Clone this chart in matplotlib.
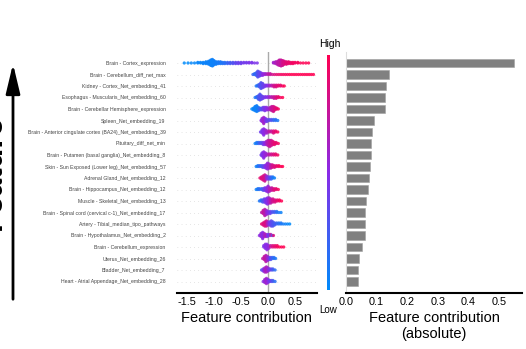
import numpy as np
import matplotlib
matplotlib.use("Agg")
import matplotlib.pyplot as plt
from matplotlib.colors import LinearSegmentedColormap

plt.rcParams['font.family'] = ['Liberation Sans', 'DejaVu Sans']

features = [
    "Brain - Cortex_expression",
    "Brain - Cerebellum_diff_net_max",
    "Kidney - Cortex_Net_embedding_41",
    "Esophagus - Muscularis_Net_embedding_60",
    "Brain - Cerebellar Hemisphere_expression",
    "Spleen_Net_embedding_19",
    "Brain - Anterior cingulate cortex (BA24)_Net_embedding_39",
    "Pituitary_diff_net_min",
    "Brain - Putamen (basal ganglia)_Net_embedding_8",
    "Skin - Sun Exposed (Lower leg)_Net_embedding_57",
    "Adrenal Gland_Net_embedding_12",
    "Brain - Hippocampus_Net_embedding_12",
    "Muscle - Skeletal_Net_embedding_13",
    "Brain - Spinal cord (cervical c-1)_Net_embedding_17",
    "Artery - Tibial_median_tipo_pathways",
    "Brain - Hypothalamus_Net_embedding_2",
    "Brain - Cerebellum_expression",
    "Uterus_Net_embedding_26",
    "Bladder_Net_embedding_7",
    "Heart - Atrial Appendage_Net_embedding_28",
]

mean_abs = [0.550, 0.139, 0.132, 0.127, 0.126, 0.093, 0.086, 0.083, 0.081, 0.080,
            0.074, 0.071, 0.065, 0.061, 0.061, 0.061, 0.052, 0.044, 0.040, 0.039]

# per feature: (shap value, feature value 0-1, number of samples)
swarm = [
    [(-1.55,0.0,1),(-1.48,0.0,1),(-1.42,0.02,1),(-1.36,0.02,1),(-1.30,0.03,2),(-1.25,0.03,2),
     (-1.20,0.04,3),(-1.15,0.04,4),(-1.10,0.05,6),(-1.06,0.05,10),(-1.03,0.05,12),(-1.00,0.06,8),
     (-0.96,0.07,5),(-0.92,0.08,4),(-0.88,0.1,4),(-0.84,0.12,3),(-0.80,0.15,3),(-0.75,0.2,3),
     (-0.70,0.25,3),(-0.65,0.3,3),(-0.60,0.35,3),(-0.55,0.38,3),(-0.50,0.4,3),(-0.45,0.42,2),
     (-0.40,0.42,2),(-0.35,0.45,2),(-0.30,0.45,2),(-0.25,0.45,1),(-0.20,0.45,1),
     (0.10,0.6,2),(0.14,0.65,4),(0.18,0.7,7),(0.21,0.72,10),(0.24,0.75,11),(0.27,0.8,9),
     (0.30,0.85,6),(0.34,0.88,5),(0.38,0.9,4),(0.42,0.92,3),(0.46,0.95,3),(0.50,0.95,2),
     (0.55,0.97,2),(0.60,0.98,1),(0.65,1.0,1),(0.70,1.0,1),(0.75,1.0,1)],
    [(-0.28,0.2,1),(-0.25,0.15,2),(-0.22,0.2,4),(-0.19,0.3,8),(-0.16,0.35,6),(-0.13,0.4,4),
     (-0.10,0.5,3),(-0.07,0.55,2),(-0.04,0.6,2),(0.0,0.7,2),(0.04,0.75,2),(0.08,0.8,1),
     (0.12,0.85,1),(0.16,0.9,1),(0.20,0.92,1),(0.24,0.95,1),(0.28,0.95,1),(0.32,0.97,1),
     (0.36,0.97,1),(0.40,1.0,1),(0.44,1.0,1),(0.48,1.0,1),(0.52,1.0,1),(0.56,1.0,1),
     (0.60,1.0,1),(0.64,1.0,1),(0.68,1.0,1),(0.72,1.0,1),(0.76,1.0,1),(0.80,1.0,1),(0.84,1.0,1)],
    [(-0.22,0.1,1),(-0.19,0.15,2),(-0.16,0.25,4),(-0.13,0.3,8),(-0.10,0.35,6),(-0.07,0.4,3),
     (-0.04,0.45,2),(-0.01,0.5,2),(0.03,0.6,2),(0.07,0.7,2),(0.11,0.8,3),(0.15,0.85,3),
     (0.19,0.9,2),(0.23,0.9,2),(0.27,0.95,1),(0.30,1.0,1)],
    [(-0.24,0.1,1),(-0.21,0.15,2),(-0.18,0.25,5),(-0.15,0.3,8),(-0.12,0.35,5),(-0.09,0.4,3),
     (-0.05,0.45,2),(-0.01,0.5,2),(0.03,0.6,2),(0.07,0.7,2),(0.11,0.75,3),(0.15,0.85,3),
     (0.19,0.9,2),(0.23,0.95,1),(0.27,1.0,1)],
    [(-0.30,0.0,1),(-0.27,0.02,3),(-0.24,0.05,6),(-0.21,0.05,8),(-0.18,0.1,5),(-0.15,0.2,3),
     (-0.12,0.3,3),(-0.09,0.4,4),(-0.06,0.45,5),(-0.03,0.5,4),(0.0,0.55,3),(0.04,0.65,4),
     (0.07,0.75,6),(0.10,0.8,7),(0.13,0.85,4),(0.16,0.9,2),(0.19,0.95,1)],
    [(-0.13,0.5,1),(-0.11,0.55,4),(-0.08,0.6,7),(-0.05,0.5,4),(-0.02,0.4,3),(0.02,0.35,2),
     (0.06,0.3,2),(0.10,0.2,2),(0.14,0.15,2),(0.18,0.1,1)],
    [(-0.14,0.4,1),(-0.11,0.45,4),(-0.08,0.5,7),(-0.05,0.55,4),(-0.02,0.6,3),(0.02,0.7,2),
     (0.06,0.75,2),(0.10,0.85,3),(0.14,0.9,2),(0.18,0.95,1)],
    [(-0.24,0.05,1),(-0.21,0.1,2),(-0.18,0.15,2),(-0.15,0.25,2),(-0.12,0.3,2),(-0.09,0.4,3),
     (-0.06,0.5,3),(-0.03,0.6,4),(0.0,0.7,6),(0.03,0.75,7),(0.06,0.8,6),(0.09,0.85,4),
     (0.12,0.9,3),(0.15,0.9,2),(0.19,0.95,1)],
    [(-0.13,0.4,1),(-0.11,0.45,4),(-0.08,0.5,7),(-0.05,0.55,4),(-0.02,0.6,2),(0.02,0.7,2),
     (0.06,0.8,2),(0.10,0.85,2),(0.14,0.9,2),(0.18,0.95,1)],
    [(-0.22,0.05,1),(-0.19,0.1,2),(-0.16,0.15,2),(-0.13,0.25,2),(-0.10,0.3,3),(-0.07,0.4,3),
     (-0.04,0.5,5),(-0.01,0.55,8),(0.02,0.6,6),(0.05,0.7,5),(0.08,0.8,4),(0.12,0.85,3),
     (0.16,0.9,2),(0.20,0.95,2),(0.24,1.0,1),(0.27,1.0,1)],
    [(-0.15,0.9,1),(-0.12,0.85,3),(-0.09,0.85,5),(-0.06,0.8,7),(-0.03,0.6,4),(0.0,0.45,3),
     (0.03,0.35,3),(0.06,0.2,3),(0.09,0.1,2),(0.12,0.05,1)],
    [(-0.22,0.05,1),(-0.19,0.1,2),(-0.16,0.15,2),(-0.12,0.2,2),(-0.09,0.3,3),(-0.06,0.4,4),
     (-0.03,0.5,5),(0.0,0.55,8),(0.03,0.65,5),(0.07,0.75,4),(0.11,0.85,3),(0.15,0.9,2),
     (0.19,0.95,1)],
    [(-0.16,0.1,1),(-0.13,0.15,2),(-0.10,0.25,3),(-0.07,0.35,4),(-0.04,0.45,5),(-0.01,0.5,7),
     (0.02,0.6,6),(0.05,0.7,5),(0.09,0.8,4),(0.13,0.85,3),(0.17,0.9,2),(0.21,0.95,2),(0.25,1.0,1)],
    [(-0.12,0.7,1),(-0.09,0.75,4),(-0.06,0.7,7),(-0.03,0.6,5),(0.0,0.5,3),(0.04,0.4,3),
     (0.08,0.3,2),(0.12,0.25,2),(0.16,0.15,2),(0.20,0.1,1),(0.24,0.05,1)],
    [(-0.12,0.9,1),(-0.09,0.85,3),(-0.06,0.85,5),(-0.03,0.8,6),(0.0,0.6,4),(0.03,0.45,4),
     (0.06,0.35,6),(0.09,0.3,5),(0.12,0.25,3),(0.16,0.2,2),(0.20,0.15,2),(0.24,0.1,2),
     (0.28,0.08,1),(0.32,0.05,1),(0.36,0.03,1),(0.40,0.0,1)],
    [(-0.16,0.5,1),(-0.13,0.55,4),(-0.10,0.5,7),(-0.07,0.6,4),(-0.04,0.65,3),(-0.01,0.5,3),
     (0.02,0.4,2),(0.05,0.7,2),(0.08,0.3,1),(0.10,0.85,1)],
    [(-0.08,0.45,2),(-0.05,0.5,4),(-0.02,0.5,5),(0.01,0.55,3),(0.05,0.75,2),(0.09,0.85,2),
     (0.13,0.9,2),(0.17,0.95,2),(0.21,1.0,1),(0.25,1.0,1),(0.29,1.0,1)],
    [(-0.10,0.7,1),(-0.07,0.75,4),(-0.04,0.7,7),(-0.01,0.6,5),(0.02,0.45,3),(0.05,0.3,3),
     (0.08,0.2,2),(0.11,0.15,2),(0.14,0.1,1)],
    [(-0.12,0.3,1),(-0.09,0.45,3),(-0.06,0.6,5),(-0.03,0.65,6),(0.0,0.55,4),(0.03,0.45,2),
     (0.06,0.35,2),(0.09,0.25,2),(0.13,0.15,1)],
    [(-0.09,0.5,1),(-0.06,0.55,4),(-0.03,0.6,6),(0.0,0.5,4),(0.03,0.4,2),(0.06,0.35,2),
     (0.09,0.25,2),(0.13,0.15,1)],
]

cmap = LinearSegmentedColormap.from_list("shap", ["#008bfb", "#8a2be8", "#ff0052"])

W, H = 526, 349
fig = plt.figure(figsize=(W / 100, H / 100), dpi=100)

n = len(features)
ax_bottom = (H - 293) / H
ax_height = 241.5 / H

# ---- beeswarm ----
ax = fig.add_axes([176.7 / W, ax_bottom, 140 / W, ax_height])
row_height = 0.4
for i, rows in enumerate(swarm):
    ypos = n - 1 - i
    xs, vs = [], []
    for (x, v, c) in rows:
        xs += [x] * c
        vs += [v] * c
    xs = np.array(xs); vs = np.array(vs)
    # shap-style stacking of points falling into the same x bin
    nbins = 100
    quant = np.round(nbins * (xs - xs.min()) / (xs.max() - xs.min() + 1e-8))
    order = np.argsort(quant + 1e-6 * np.arange(len(xs)))
    ys = np.zeros(len(xs))
    layer = 0
    last = -1
    for ind in order:
        if quant[ind] != last:
            layer = 0
        ys[ind] = np.ceil(layer / 2) * ((layer % 2) * 2 - 1)
        layer += 1
        last = quant[ind]
    ys *= 0.9 * (row_height / np.max(ys + 1))
    ax.axhline(ypos, color="#cccccc", lw=0.5, dashes=(1, 5), zorder=-1)
    ax.scatter(xs, ypos + ys, c=vs, cmap=cmap, vmin=0, vmax=1, s=5.5, linewidths=0,
               alpha=0.85, zorder=3)

ax.axvline(0, color="#aaaaaa", lw=1, zorder=-1)
ax.set_xlim(-1.69, 0.90)
ax.set_ylim(-1, n)
ax.set_yticks(range(n))
ax.set_yticklabels(features[::-1], fontsize=3.7, color="#444444")
ax.tick_params(axis='y', length=0, pad=8)
ax.set_xticks([-1.5, -1.0, -0.5, 0.0, 0.5])
ax.set_xticklabels(["-1.5", "-1.0", "-0.5", "0.0", "0.5"])
ax.tick_params(axis='x', labelsize=7.8, length=0, pad=3)
for s in ["top", "right", "left"]:
    ax.spines[s].set_visible(False)
ax.spines["bottom"].set_linewidth(1.5)
ax.set_xlabel("Feature contribution", fontsize=10.5, labelpad=3)

# ---- colorbar ----
cax = fig.add_axes([326.5 / W, (H - 290) / H, 2.2 / W, 235 / H])
grad = np.linspace(0, 1, 256).reshape(-1, 1)
cax.imshow(grad, aspect='auto', cmap=cmap, origin='lower')
cax.set_axis_off()
fig.text(330 / W, (H - 44) / H, "High", fontsize=7.5, ha='center', va='center')
fig.text(328 / W, (H - 310) / H, "Low", fontsize=7, ha='center', va='center')

# ---- bar chart ----
bx = fig.add_axes([346 / W, ax_bottom, 176 / W, ax_height])
ypos = np.arange(n)[::-1]
bx.barh(ypos, mean_abs, height=0.72, color="#808080", edgecolor="#a0a0a0", linewidth=0.4)
bx.set_ylim(-1, n)
bx.set_xlim(0, 0.575)
bx.set_yticks([])
bx.set_xticks([0.0, 0.1, 0.2, 0.3, 0.4, 0.5])
bx.set_xticklabels(["0.0", "0.1", "0.2", "0.3", "0.4", "0.5"])
bx.tick_params(axis='x', labelsize=7.8, length=0, pad=3)
for s in ["top", "right"]:
    bx.spines[s].set_visible(False)
bx.spines["left"].set_color("#dddddd")
bx.spines["left"].set_linewidth(0.8)
bx.spines["bottom"].set_linewidth(1.5)
bx.set_xlabel("Feature contribution\n(absolute)", fontsize=10.5, labelpad=3, linespacing=1.15)

# ---- big left label (cut off at the figure edge, as in the reference) and arrow ----
fig.text(8 / W, (H - 172) / H, "Feature", rotation=90, fontsize=23, fontweight='bold',
         ha='right', va='center')
fig.add_artist(matplotlib.patches.FancyArrowPatch(
    (13 / W, (H - 302) / H), (13 / W, (H - 61) / H), transform=fig.transFigure,
    arrowstyle='-|>,head_length=1.8,head_width=0.43', mutation_scale=10,
    lw=2, color='black'))

fig.savefig("out.png", dpi=100)
